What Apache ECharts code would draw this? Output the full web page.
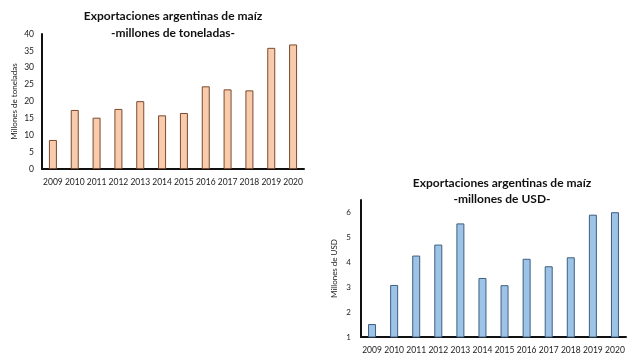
<!DOCTYPE html>
<html><head><meta charset="utf-8">
<script src="https://cdn.jsdelivr.net/npm/echarts@6/dist/echarts.min.js"></script>
<style>html,body{margin:0;padding:0;background:#fff}#c{width:640px;height:360px}</style>
</head><body><div id="c"></div>
<script>
var years = ['2009','2010','2011','2012','2013','2014','2015','2016','2017','2018','2019','2020'];
var toneladas = [8.6, 17.5, 15.2, 17.8, 20.1, 15.9, 16.6, 24.5, 23.6, 23.3, 35.9, 36.9];
var usd = [1.52, 3.09, 4.27, 4.71, 5.56, 3.37, 3.08, 4.14, 3.84, 4.20, 5.91, 6.01];
var title1 = ['Exportaciones argentinas de maíz', '-millones de toneladas-'];
var title2 = ['Exportaciones argentinas de maíz', '-millones de USD-'];
var yName1 = 'Millones de toneladas';
var yName2 = 'Millones de USD';

var FONT = 'Lato';
var chart = echarts.init(document.getElementById('c'), null, {renderer: 'canvas'});
function xAxis(idx) {
  return {
    type: 'category', data: years, gridIndex: idx,
    axisLine: {lineStyle: {color: '#111', width: 2}},
    axisTick: {show: false},
    axisLabel: {color: '#222', fontSize: 8.5, fontFamily: FONT, margin: 9, interval: 0}
  };
}
chart.setOption({
  animation: false,
  title: [
    {text: title1.join('\n'), left: 168, top: 3, textAlign: 'center',
     textStyle: {fontSize: 12, fontWeight: 'bold', fontFamily: FONT, color: '#111', lineHeight: 17}},
    {text: title2.join('\n'), left: 497, top: 170, textAlign: 'center',
     textStyle: {fontSize: 12, fontWeight: 'bold', fontFamily: FONT, color: '#111', lineHeight: 16}}
  ],
  grid: [
    {left: 42, right: 336, top: 34, bottom: 191},
    {left: 361, right: 14, top: 200, bottom: 23}
  ],
  xAxis: [xAxis(0), xAxis(1)],
  yAxis: [
    {type: 'value', gridIndex: 0, min: 0, max: 40, interval: 5,
     name: yName1, nameLocation: 'middle', nameGap: 24,
     nameTextStyle: {fontSize: 8, fontFamily: FONT, color: '#222'},
     axisLine: {show: true, lineStyle: {color: '#111', width: 2}},
     axisTick: {show: false}, splitLine: {show: false},
     axisLabel: {color: '#222', fontSize: 8.5, fontFamily: FONT, margin: 8}},
    {type: 'value', gridIndex: 1, min: 1, max: 6.5, interval: 1,
     name: yName2, nameLocation: 'middle', nameGap: 23,
     nameTextStyle: {fontSize: 8, fontFamily: FONT, color: '#222'},
     axisLine: {show: true, lineStyle: {color: '#111', width: 2}},
     axisTick: {show: false}, splitLine: {show: false},
     axisLabel: {color: '#222', fontSize: 8, fontFamily: FONT, margin: 10, showMaxLabel: false,
       formatter: function (v) { return Number.isInteger(v) ? String(v) : ''; }}}
  ],
  series: [
    {type: 'bar', xAxisIndex: 0, yAxisIndex: 0, data: toneladas, barWidth: 8,
     itemStyle: {color: '#F8CBAD', borderColor: '#7B4A2E', borderWidth: 1}},
    {type: 'bar', xAxisIndex: 1, yAxisIndex: 1, data: usd, barWidth: 8,
     itemStyle: {color: '#9DC3E6', borderColor: '#3F5F80', borderWidth: 1}}
  ]
});
</script></body></html>
